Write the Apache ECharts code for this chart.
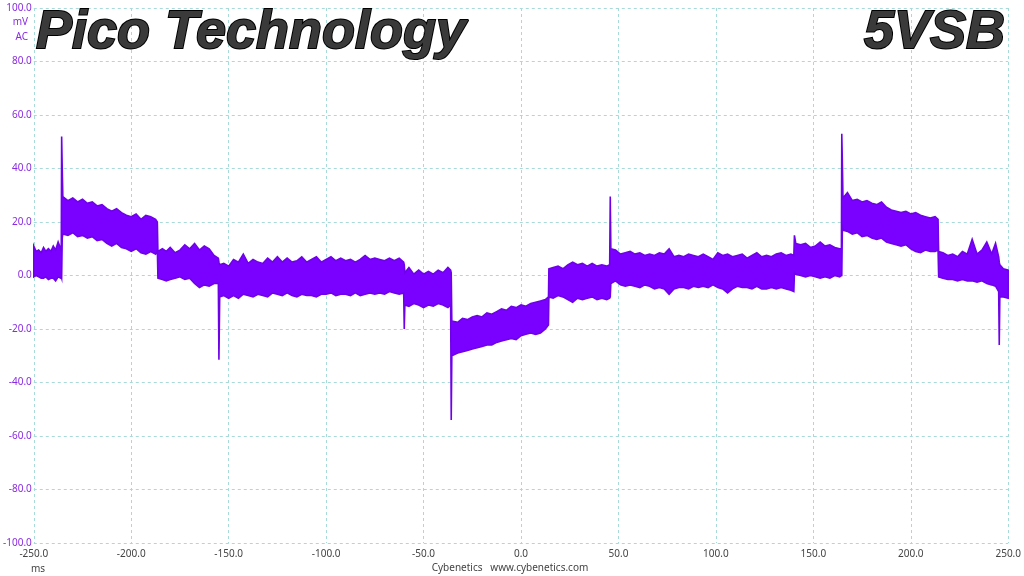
<!DOCTYPE html>
<html>
<head>
<meta charset="utf-8">
<script src="https://cdn.jsdelivr.net/npm/echarts@6/dist/echarts.min.js"></script>
<style>
  html, body { margin: 0; padding: 0; background: #ffffff; }
  #chart { width: 1024px; height: 576px; }
</style>
</head>
<body>
<div id="chart"></div>
<script>
// ---- Data (envelope of the noisy signal) ----
// time in ms
const timeMs = [
  -250, -248.8, -247.5, -246.2, -245, -243.8, -242.5, -241.2, -240, -238.8, -237.5, -236.2, -235.9,
  -235.7, -235.4,
  -235.1, -232.5, -230, -227.5, -225, -222.5, -220, -217.5, -215, -212.5, -210, -207.5, -205, -202.5, -200, -197.5, -195, -192.5, -190, -187.5, -186.6,
  -186.3, -184, -182, -180, -177.5, -175, -172.5, -170, -167.5, -165, -162.5, -160, -157.5, -155.3,
  -155,
  -154.6, -152.5, -150, -147.5, -145, -142.5, -140, -137.5, -135, -132.5, -130, -127.5, -125, -122.5, -120, -117.5, -115, -112.5, -110, -107.5, -105, -102.5, -100, -97.5, -95, -92.5, -90, -87.5, -85, -82.5, -80, -77.5, -75, -72.5, -70, -67.5, -65, -62.5, -60.2,
  -59.9, -59.6, -57.5, -55, -52.5, -50, -47.5, -45, -42.5, -40, -37.5, -36.1,
  -35.8,
  -35.5, -32.5, -30, -27.5, -25, -22.5, -20, -17.5, -15, -12.5, -10, -7.5, -5, -2.5, 0, 2.5, 5, 7.5, 10, 12.5, 14.1,
  14.3, 16.5, 19, 21.5, 24, 26.5, 29, 31.5, 34, 36.5, 39, 41.5, 44, 45.5,
  45.8,
  46.1, 48.5, 51, 53.5, 56, 58.5, 61, 63.5, 66, 68.5, 71, 73.5, 76, 78.5, 81, 83.5, 86, 88.5, 91, 93.5, 96, 98.5, 101, 103.5, 106, 108.5, 111, 113.5, 116, 118.5, 121, 123.5, 126, 128.5, 131, 133.5, 136, 138.5, 140,
  140.3, 141, 143.5, 146, 148.5, 151, 153.5, 156, 158.5, 161, 163.5, 164.4,
  164.6, 164.9,
  165.2, 167.5, 170, 172.5, 175, 177.5, 180, 182.5, 185, 187.5, 190, 192.5, 195, 197.5, 200, 202.5, 205, 207.5, 210, 212.5, 214,
  214.3, 216.5, 219, 221.5, 224, 226.5, 229, 231.5, 234, 236.5, 239, 241.5, 243.5, 245.1,
  245.4,
  245.7, 247.5, 250
];
// lower edge of the trace, mV
const lowMv = [
  -0.5, 0, -0.5, -1, -1, -0.5, -1.5, -1, -1, -2, -0.5, -1, -0.5,
  -1, 14,
  15.5, 15, 16, 14.5, 15, 14, 14.5, 13, 13.5, 12, 11, 12, 10.5, 10, 9, 10, 8.5, 8, 9, 8, 9.5,
  -1, -1.5, -2, -1.5, -1, -0.5, -1.5, -1, -3, -4.5, -3.5, -4, -3, -3,
  -31.5,
  -8, -7.5, -8.5, -7.5, -8.5, -7, -7.5, -8, -7, -7.5, -8, -6.5, -7, -7.5, -6.5, -7.5, -8, -7, -7.5, -7.5, -8, -7, -7, -6.5, -7.5, -7, -7, -7.5, -6.5, -7.5, -7, -6.5, -7, -6.5, -7, -6, -6.5, -7, -6.5,
  -20, -11, -11.5, -10.5, -11, -12, -11, -11.5, -10.5, -11, -12, -11,
  -54,
  -30, -29, -28.5, -28, -27.5, -27, -26.5, -26, -26, -25, -24.5, -24, -23.5, -24, -22.5, -22, -21.5, -22, -21.5, -20, -18.5,
  -8, -8.5, -7.5, -8, -9, -10, -8.5, -9, -8.5, -8, -9, -8.5, -9, -8.5,
  -8,
  -3, -2, -3.5, -4, -3.5, -4, -4.5, -3.5, -4, -5, -4.5, -5, -7, -5, -4.5, -4.5, -5, -4, -4.5, -4, -4.5, -3.5, -4.5, -5, -6.5, -5, -4, -4.5, -4.5, -5, -4, -5, -5, -4.5, -5, -4.5, -5, -5.5, -6,
  1, 0.5, 0, -0.5, 0, -0.5, -1, -0.5, -1, 0, -0.5, 0,
  0, 18,
  17, 16.5, 15.5, 16, 14.5, 15, 14, 13.5, 14, 12.5, 12, 11.5, 11, 11.5, 10, 9, 8.5, 9.5, 9, 9, 9.5,
  -0.5, -1, -1.5, -1.5, -2, -1.5, -2, -2, -2.5, -2, -3, -3.5, -4, -6,
  -26,
  -8, -8, -8.5
];
// upper edge of the trace, mV
const highMv = [
  11, 9, 9.5, 8.5, 10.5, 9, 10, 9, 11, 9.5, 12.5, 10, 11,
  52, 40,
  29.5, 28, 29, 27.5, 28.5, 27, 27.5, 26, 26.5, 25, 24, 25, 23.5, 22.5, 22, 23, 21, 22.5, 22, 21, 20,
  9, 10, 9, 10.5, 8.5, 9.5, 11.5, 10, 12, 9.5, 11, 10, 7.5, 6.5,
  5,
  4, 4.5, 3.5, 6, 5, 8, 4.5, 6, 5, 4.5, 6.5, 5, 7, 5, 6.5, 5, 5.5, 7, 5, 6, 7, 5, 6, 7, 5.5, 6.5, 5.5, 6, 5, 6, 7.5, 6, 6.5, 6, 5.5, 6.5, 5.5, 6.5, 5,
  4, 1, 3, 0.5, 2, 0.5, 1.5, 0.5, 2, 1, 3, 2,
  1,
  -17, -17.5, -16, -16.5, -15.5, -15, -15.5, -14, -14.5, -13.5, -12.5, -13, -11.5, -12, -11, -11.5, -10.5, -10, -9.5, -9, -8,
  2.5, 3, 3.5, 2.5, 4, 5, 4, 4.5, 3.5, 4.5, 3.5, 4, 3.5, 4,
  29.5,
  10, 9.5, 8, 8.5, 9, 8, 8.5, 7.5, 8, 7.5, 8.5, 8, 10, 7, 7.5, 7, 8, 7.5, 7, 8, 7, 6, 8.5, 7.5, 8, 7, 7.5, 8, 6.5, 7.5, 8.5, 7, 7.5, 7, 8, 8.5, 7.5, 8, 7.5,
  15, 12, 11.5, 12, 10.5, 11, 12.5, 11, 11.5, 10.5, 10, 10,
  53, 42,
  29, 31, 28, 28.5, 27.5, 28, 27, 26.5, 27.5, 25.5, 24.5, 24, 23.5, 24, 23, 23.5, 22.5, 22, 21.5, 22, 21,
  9, 8.5, 7.5, 8, 7, 9, 8, 13.5, 8, 9.5, 12.5, 8, 12, 7,
  5,
  4, 2.5, 2
];

const xAxisRange = [-250, 250];
const xTickStep = 50;
const yAxisRange = [-100, 100];
const yTickStep = 20;
const titleLeft = 'Pico Technology';
const titleRight = '5VSB';
const yUnitLines = ['mV', 'AC'];
const xUnit = 'ms';
const footer = 'Cybenetics   www.cybenetics.com';

if (timeMs.length !== lowMv.length || timeMs.length !== highMv.length) {
  throw new Error('length mismatch ' + timeMs.length + ' ' + lowMv.length + ' ' + highMv.length);
}

// one row per sample: [time, low, high]
const bandRows = timeMs.map((t, i) => [t, lowMv[i], highMv[i]]);

const TRACE = '#7a00ff';
const GRIDC = '#a9dada';
const chart = echarts.init(document.getElementById('chart'), null, { renderer: 'canvas' });

function renderBand(params, api) {
  // draw the whole envelope as one polygon through the axis scales
  const upper = bandRows.map(r => api.coord([r[0], r[2]]));
  const lower = bandRows.slice().reverse().map(r => api.coord([r[0], r[1]]));
  return {
    type: 'polygon',
    shape: { points: upper.concat(lower) },
    style: { fill: TRACE, stroke: '#6f00ea', lineWidth: 1.6, lineJoin: 'miter' }
  };
}

chart.setOption({
  animation: false,
  backgroundColor: '#ffffff',
  grid: { left: 30, right: 14, top: 8, bottom: 33, containLabel: false },
  xAxis: {
    type: 'value',
    min: xAxisRange[0], max: xAxisRange[1], interval: xTickStep,
    axisLine: { show: false },
    axisTick: { show: false },
    splitLine: { show: true, lineStyle: { color: GRIDC, type: [3, 3], width: 1 } },
    axisLabel: {
      color: '#444', fontSize: 10, fontFamily: 'Noto Sans', margin: 6,
      formatter: v => v.toFixed(1)
    }
  },
  yAxis: {
    type: 'value',
    min: yAxisRange[0], max: yAxisRange[1], interval: yTickStep,
    axisLine: { show: false },
    axisTick: { show: false },
    splitLine: { show: true, lineStyle: { color: GRIDC, type: [3, 3], width: 1 } },
    axisLabel: {
      color: '#8a2be2', fontSize: 10, fontFamily: 'Noto Sans', margin: 2,
      formatter: v => v.toFixed(1)
    }
  },
  series: [
    {
      type: 'custom', name: 'trace',
      data: [bandRows[0]],
      encode: { x: 0, y: [1, 2] },
      renderItem: renderBand,
      clip: true,
      z: 3
    }
  ],
  graphic: [
    {
      type: 'text', x: 36, y: 33, z: 10,
      style: {
        text: titleLeft, fill: '#3a3a3a', stroke: '#000', lineWidth: 2,
        font: 'italic bold 54px "Liberation Sans", Arial, sans-serif',
        align: 'left', verticalAlign: 'middle',
        shadowColor: 'rgba(0,0,0,0.3)', shadowBlur: 2, shadowOffsetX: 1, shadowOffsetY: 1
      }
    },
    {
      type: 'text', x: 1005, y: 33, z: 10,
      style: {
        text: titleRight, fill: '#3a3a3a', stroke: '#000', lineWidth: 2,
        font: 'italic bold 54px "Liberation Sans", Arial, sans-serif',
        align: 'right', verticalAlign: 'middle',
        shadowColor: 'rgba(0,0,0,0.3)', shadowBlur: 2, shadowOffsetX: 1, shadowOffsetY: 1
      }
    },
    {
      type: 'text', x: 28, y: 22,
      style: { text: yUnitLines[0], fill: '#8a2be2', font: '10px "Noto Sans"', align: 'right', verticalAlign: 'middle' }
    },
    {
      type: 'text', x: 28, y: 37,
      style: { text: yUnitLines[1], fill: '#8a2be2', font: '10px "Noto Sans"', align: 'right', verticalAlign: 'middle' }
    },
    {
      type: 'text', x: 38, y: 569,
      style: { text: xUnit, fill: '#444', font: '10px "Noto Sans"', align: 'center', verticalAlign: 'middle' }
    },
    {
      type: 'text', x: 510, y: 568,
      style: { text: footer, fill: '#444', font: '10px "Noto Sans"', align: 'center', verticalAlign: 'middle' }
    }
  ]
});
</script>
</body>
</html>
